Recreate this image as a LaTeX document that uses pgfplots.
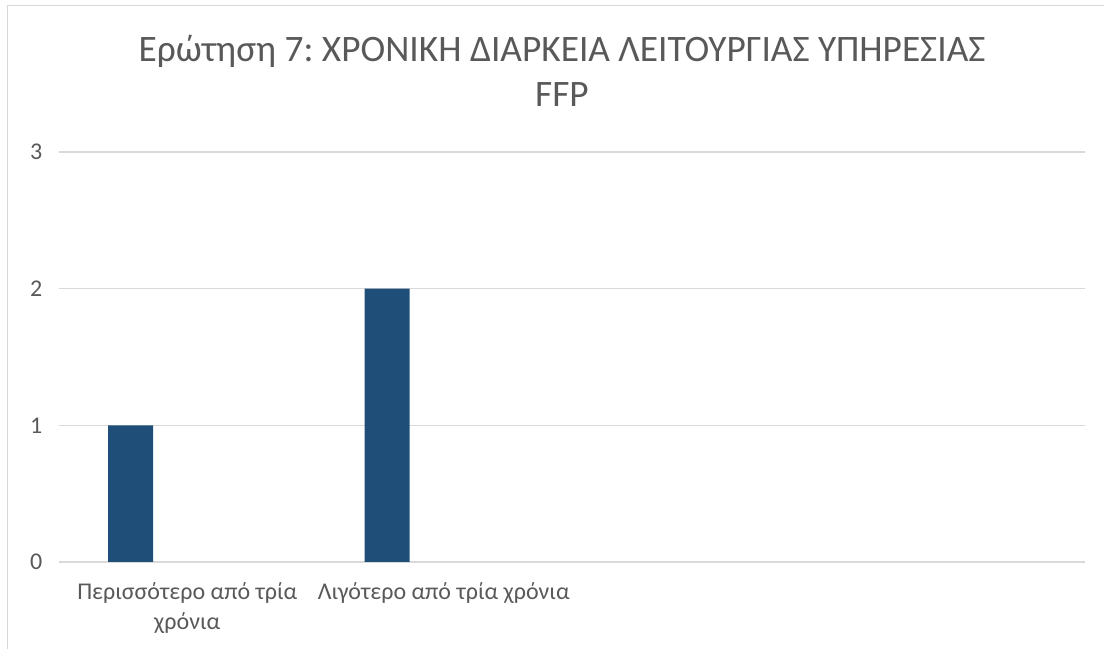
\documentclass[border=0pt]{standalone}
\usepackage{fontspec}
\setmainfont{Carlito}
\usepackage{pgfplots}
\pgfplotsset{compat=1.18}
\definecolor{barc}{HTML}{1F4E79}
\definecolor{gridc}{HTML}{D9D9D9}
\definecolor{txt}{HTML}{595959}
\frenchspacing
\begin{document}
\begin{tikzpicture}[x=0.75pt,y=0.75pt]
\useasboundingbox (0,0) rectangle (1104,649);
\draw[gridc, line width=0.75pt] (7,-20) -- (7,643) -- (1130,643);
\node[anchor=base, text=txt, font=\fontsize{28}{33}\selectfont] at (562,587) {Ερώτηση 7: ΧΡΟΝΙΚΗ ΔΙΑΡΚΕΙΑ ΛΕΙΤΟΥΡΓΙΑΣ ΥΠΗΡΕΣΙΑΣ};
\node[anchor=base, text=txt, font=\fontsize{28}{33}\selectfont] at (562,542) {FFP};
\begin{axis}[
  at={(44.25pt,65.25pt)}, anchor=origin,
  scale only axis, width=769.5pt, height=307.5pt,
  xmin=0, xmax=4, ymin=0, ymax=3,
  axis line style={draw=none},
  ytick={0,1,2,3},
  xtick={0.5,1.5},
  xticklabels={{Περισσότερο από τρία\\χρόνια},{Λιγότερο από τρία χρόνια}},
  major tick length=0pt,
  ymajorgrids, xmajorgrids=false, grid style={draw=gridc, line width=1pt},
  /pgf/number format/assume math mode=true,
  tick label style={text=txt, font=\fontsize{18}{22.5}\selectfont},
  xticklabel style={align=center, anchor=north, yshift=-12pt},
  yticklabel style={anchor=east, xshift=-9pt},
  ybar, bar width=33.75pt, bar shift=0pt,
]
\addplot[fill=barc, draw=none] coordinates {(0.279,1) (1.279,2)};
\end{axis}
\end{tikzpicture}
\end{document}
